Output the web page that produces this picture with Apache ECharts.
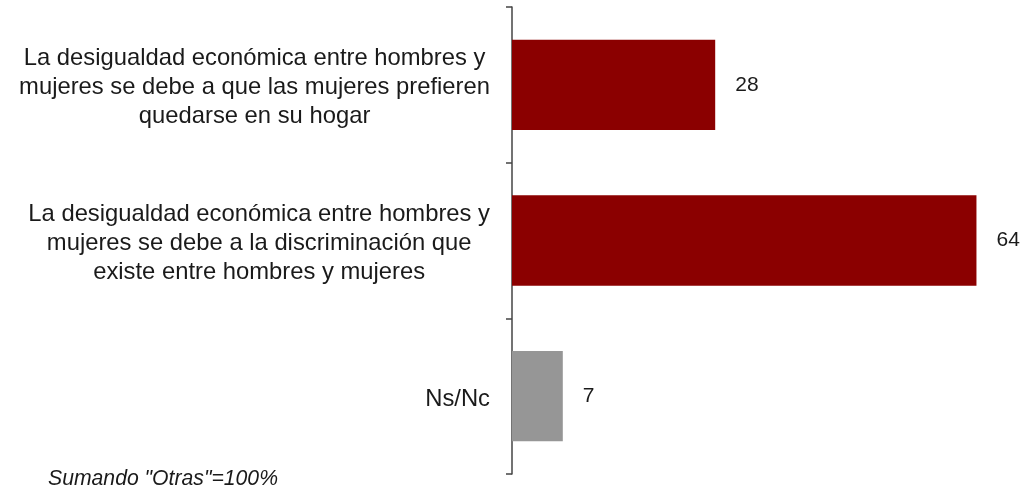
<!DOCTYPE html>
<html>
<head>
<meta charset="utf-8">
<script src="https://cdn.jsdelivr.net/npm/echarts@6/dist/echarts.min.js"></script>
<style>
  html, body { margin: 0; padding: 0; background: #fff; }
  #chart { width: 1026px; height: 493px; }
</style>
</head>
<body>
<div id="chart"></div>
<script>
// data
const categories = [
  'La desigualdad económica entre hombres y\nmujeres se debe a que las mujeres prefieren\nquedarse en su hogar',
  'La desigualdad económica entre hombres y\nmujeres se debe a la discriminación que\nexiste entre hombres y mujeres',
  'Ns/Nc',
];
const values = [28, 64, 7];
const footnote = 'Sumando "Otras"=100%';

const RED = '#8b0000';
const GRAY = '#969696';
const FONT = "'Liberation Sans', Arial, sans-serif";

const chart = echarts.init(document.getElementById('chart'));

chart.setOption({
  animation: false,
  grid: { left: 512, right: 6, top: 7, bottom: 19, containLabel: false },
  xAxis: {
    type: 'value',
    min: 0,
    max: 70,
    show: false,
  },
  yAxis: {
    type: 'category',
    data: categories,
    inverse: true,
    axisLine: { lineStyle: { color: '#444', width: 1.5 } },
    axisTick: { show: true, length: 6, lineStyle: { color: '#444', width: 1.5 } },
    axisLabel: {
      margin: 22,
      padding: [6, 0, 0, 0],
      color: '#1a1a1a',
      fontFamily: FONT,
      fontSize: 23.8,
      lineHeight: 29,
      formatter: (v) => v.split('\n').map((l) => '{c|' + l + '}').join('\n'),
      rich: {
        c: { align: 'center', fontFamily: FONT, fontSize: 23.8, lineHeight: 29, color: '#1a1a1a' },
      },
    },
  },
  series: [
    {
      type: 'bar',
      data: values,
      barCategoryGap: '42%',
      itemStyle: {
        color: (p) => (p.name === 'Ns/Nc' ? GRAY : RED),
      },
      label: {
        show: true,
        position: 'right',
        distance: 20,
        padding: [4, 0, 0, 0],
        color: '#1a1a1a',
        fontFamily: FONT,
        fontSize: 21,
      },
    },
  ],
  graphic: [
    {
      type: 'text',
      left: 48,
      top: 469,
      style: {
        text: footnote,
        fontFamily: FONT,
        fontStyle: 'italic',
        fontSize: 21.2,
        fill: '#1a1a1a',
      },
    },
  ],
});
</script>
</body>
</html>
